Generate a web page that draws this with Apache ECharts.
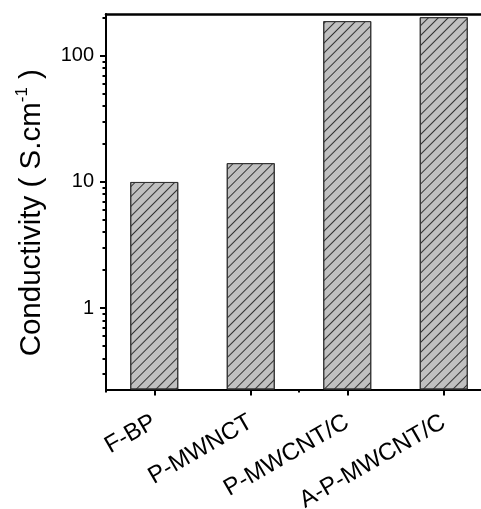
<!DOCTYPE html>
<html>
<head>
<meta charset="utf-8">
<script src="https://cdn.jsdelivr.net/npm/echarts@6/dist/echarts.min.js"></script>
<style>
html,body{margin:0;padding:0;background:#fff;}
#chart{width:481px;height:509px;}
</style>
</head>
<body>
<div id="chart"></div>
<script>
const categories = ['F-BP', 'P-MWNCT', 'P-MWCNT/C', 'A-P-MWCNT/C'];
const conductivity = [10, 14.1, 188, 202];
const yMin = 0.227;
const yMax = 214;
const majorTicks = [1, 10, 100];
const minorTicks = [0.3, 0.4, 0.5, 0.6, 0.7, 0.8, 0.9, 2, 3, 4, 5, 6, 7, 8, 9, 20, 30, 40, 50, 60, 70, 80, 90, 200];

const FONT = '"Liberation Sans", Arial, sans-serif';
const chart = echarts.init(document.getElementById('chart'), null, {renderer: 'canvas'});
chart.setOption({
  animation: false,
  backgroundColor: '#fff',
  grid: {left: 106, top: 14, width: 386, height: 375.5, outerBoundsMode: 'none', containLabel: false},
  xAxis: [
    {
      type: 'category', data: categories, position: 'bottom',
      axisLine: {show: true, lineStyle: {color: '#000', width: 2}},
      axisTick: {show: true, alignWithLabel: true, inside: false, length: 6, lineStyle: {color: '#000', width: 2}},
      axisLabel: {rotate: 30, margin: 31, color: '#000', fontSize: 24, fontFamily: FONT},
      splitLine: {show: false}
    },
    {
      type: 'category', data: categories, position: 'bottom', gridIndex: 0,
      axisLine: {show: false},
      axisTick: {show: true, alignWithLabel: false, length: 3, lineStyle: {color: '#000', width: 2}},
      axisLabel: {show: false},
      splitLine: {show: false}
    },
    {
      type: 'category', data: categories, position: 'top', gridIndex: 0,
      axisLine: {show: true, lineStyle: {color: '#000', width: 2.5}},
      axisTick: {show: false},
      axisLabel: {show: false},
      splitLine: {show: false}
    }
  ],
  yAxis: [
    {
      type: 'log', min: yMin, max: yMax, startValue: yMin,
      name: '{a|Conductivity ( S.cm}{s|-1}{a| )}',
      nameLocation: 'middle', nameGap: 57, nameRotate: 90,
      nameTextStyle: {
        padding: [0, 22, 0, 0],
        rich: {
          a: {fontSize: 29.5, fontFamily: FONT, color: '#000'},
          s: {fontSize: 17, fontFamily: FONT, color: '#000', verticalAlign: 'top', padding: [0, 0, 18, 0]}
        }
      },
      axisLine: {show: true, lineStyle: {color: '#000', width: 2}},
      axisTick: {show: true, customValues: majorTicks, length: 6, lineStyle: {color: '#000', width: 2}},
      axisLabel: {customValues: majorTicks, color: '#000', fontSize: 20, fontFamily: FONT, margin: 12},
      splitLine: {show: false}
    },
    {
      type: 'log', min: yMin, max: yMax, position: 'left', offset: 0,
      axisLine: {show: false},
      axisTick: {show: true, customValues: minorTicks, length: 3.5, lineStyle: {color: '#000', width: 2}},
      axisLabel: {show: false},
      splitLine: {show: false}
    }
  ],
  series: [{
    type: 'bar',
    data: conductivity,
    xAxisIndex: 0, yAxisIndex: 0,
    barWidth: 48,
    itemStyle: {
      color: '#c0c0c0',
      borderColor: '#333',
      borderWidth: 1,
      decal: {
        symbol: 'rect', symbolSize: 1,
        dashArrayX: [[1, 0]], dashArrayY: [1, 6],
        rotation: -Math.PI / 4,
        color: '#333'
      }
    }
  }]
});
</script>
</body>
</html>
